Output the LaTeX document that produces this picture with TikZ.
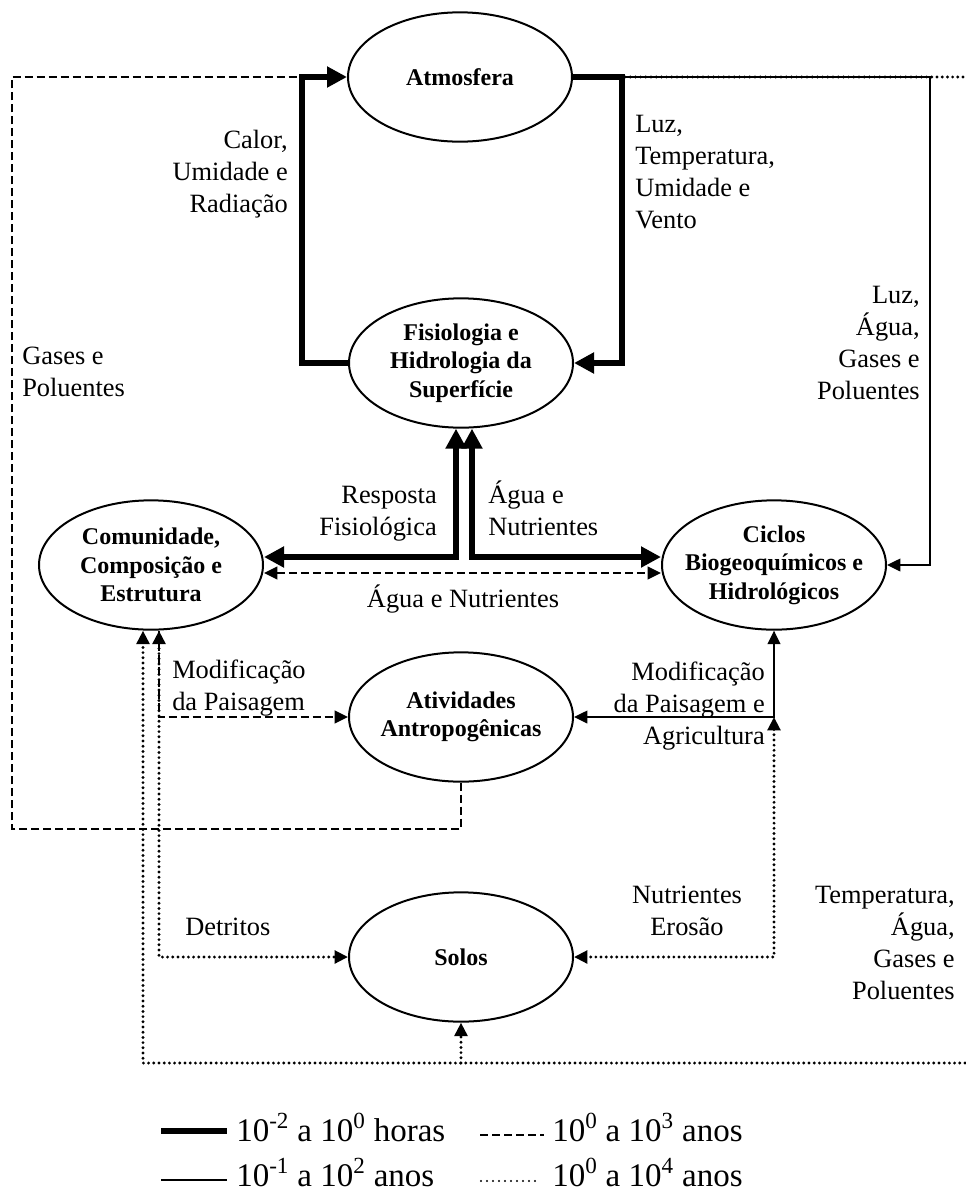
\documentclass[tikz,border=0pt]{standalone}
\usepackage{fontspec}
\setmainfont{Liberation Serif}
\usetikzlibrary{arrows.meta,shapes.geometric}

% multi-line label whose baseline is that of its first line
\newcommand{\linestack}[2]{\begin{tabular}[t]{@{}#1@{}}#2\end{tabular}}

\tikzset{
  bigtip/.tip={Triangle[length=15pt,width=15pt]},
  smalltip/.tip={Triangle[length=10pt,width=9.5pt]},
  proc/.style={draw, ellipse, line width=1.5pt, minimum width=168pt, minimum height=97pt, inner sep=0pt},
  ptext/.style={font=\fontsize{18}{21.4}\selectfont\bfseries, align=center, inner sep=0pt},
  lbl/.style={font=\fontsize{19.8}{24}\selectfont, inner sep=0pt},
  leg/.style={font=\fontsize{24.75}{30}\selectfont, inner sep=0pt},
  hourly/.style={line width=5pt},
  decadal/.style={line width=1.1pt},
  secular/.style={line width=1.3pt, dash pattern=on 6pt off 3pt},
  millennial/.style={line width=2.4pt, line cap=round, dash pattern=on 0pt off 3.9pt},
}

\begin{document}
\begin{tikzpicture}[x=0.75pt,y=-0.75pt]
\useasboundingbox (0,0) rectangle (965,1193);

% compartments
\node[proc] (atm) at (460,77) {};
\node[ptext] (atmt) at (atm.center) {Atmosfera};
\node[proc] (fis) at (461,363) {};
\node[ptext] (fist) at (fis.center) {Fisiologia e\\Hidrologia da\\Superfície};
\node[proc] (com) at (151,565) {};
\node[ptext] (comt) at (com.center) {Comunidade,\\Composição e\\Estrutura};
\node[proc] (cic) at (774,565) {};
\node[ptext] (cict) at (cic.center) {Ciclos\\Biogeoquímicos e\\Hidrológicos};
\node[proc] (atv) at (461,717) {};
\node[ptext] (atvt) at (atv.center) {Atividades\\Antropogênicas};
\node[proc] (sol) at (461,957) {};
\node[ptext] (solt) at (sol.center) {Solos};

% bends and free ends of the connectors
\coordinate (lt) at (302,77);
\coordinate (rk) at (622,77);
\coordinate (rt) at (930,77);
\coordinate (edgeT) at (965,77);
\coordinate (edgeB) at (965,1063);
\coordinate (dl) at (12,829);
\coordinate (jn) at (cic.south |- atv.east);
\coordinate (brS) at (sol.south |- edgeB);

% 10^-2 to 10^0 hours
\draw[hourly,-{bigtip}] (fis.west) -| (lt) -- (atm.west);
\draw[hourly,-{bigtip}] (atm.east) -- (rk) |- (fis.east);
\draw[hourly,{bigtip}-{bigtip}] ([xshift=-3.75pt]fis.south) |- ([yshift=6pt]com.east);
\draw[hourly,{bigtip}-{bigtip}] ([xshift=8.25pt]fis.south) |- ([yshift=6pt]cic.west);

% 10^-1 to 10^2 years
\draw[decadal,-{smalltip}] (atm.east) -- (rt) |- (cic.east);
\draw[decadal,{smalltip}-{smalltip}] (cic.south) |- (atv.east);

% 10^0 to 10^3 years
\draw[secular] (atv.south) |- (dl) |- (lt);
\draw[secular,{smalltip}-{smalltip}] ([yshift=-6pt]com.east) -- ([yshift=-6pt]cic.west);
\draw[secular,-{smalltip}] ([xshift=6pt]com.south) |- (atv.west);

% 10^0 to 10^4 years
\draw[millennial] (atm.east) -- (edgeT);
\draw[millennial,-{smalltip}] (edgeB) -| ([xshift=-6pt]com.south);
\draw[millennial,-{smalltip}] (brS) -- (sol.south);
\draw[millennial,{smalltip}-{smalltip}] ([xshift=6pt]com.south) |- (sol.west);
\draw[millennial,{smalltip}-{smalltip}] (jn) |- (sol.east);

% flow labels
\node[lbl,anchor=base east] (l1) at (288,148) {\linestack{r}{Calor,\\Umidade e\\Radiação}};
\node[lbl,anchor=base west] (l2) at (635,132) {\linestack{l}{Luz,\\Temperatura,\\Umidade e\\Vento}};
\node[lbl,anchor=base west] (l3) at (22,364) {\linestack{l}{Gases e\\Poluentes}};
\node[lbl,anchor=base east] (l4) at (920,303) {\linestack{r}{Luz,\\Água,\\Gases e\\Poluentes}};
\node[lbl,anchor=base east] (l5) at (437,503) {\linestack{r}{Resposta\\Fisiológica}};
\node[lbl,anchor=base west] (l6) at (488,503) {\linestack{l}{Água e\\Nutrientes}};
\node[lbl,anchor=base] (l7) at (463,607) {Água e Nutrientes};
\node[lbl,anchor=base west] (l8) at (172,678) {\linestack{l}{Modificação\\da Paisagem}};
\node[lbl,anchor=base east] (l9) at (765,680) {\linestack{r}{Modificação\\da Paisagem e\\Agricultura}};
\node[lbl,anchor=base west] (l10) at (185,935) {Detritos};
\node[lbl,anchor=base] (l11) at (687,903) {\linestack{c}{Nutrientes\\Erosão}};
\node[lbl,anchor=base east] (l12) at (955,903) {\linestack{r}{Temperatura,\\Água,\\Gases e\\Poluentes}};

% legend
\draw[hourly] (161,1131) -- (227,1131);
\node[leg,anchor=base west] (lg1) at (236,1141) {10\textsuperscript{-2} a 10\textsuperscript{0} horas};
\draw[line width=1pt, dash pattern=on 6pt off 3pt] (480,1135) -- (544,1135);
\node[leg,anchor=base west] (lg2) at (552,1141) {10\textsuperscript{0} a 10\textsuperscript{3} anos};
\draw[decadal] (161,1180) -- (227,1180);
\node[leg,anchor=base west] (lg3) at (236,1186) {10\textsuperscript{-1} a 10\textsuperscript{2} anos};
\draw[line width=1.7pt, line cap=round, dash pattern=on 0pt off 4.5pt] (481,1181) -- (540,1181);
\node[leg,anchor=base west] (lg4) at (552,1186) {10\textsuperscript{0} a 10\textsuperscript{4} anos};
\end{tikzpicture}
\end{document}
